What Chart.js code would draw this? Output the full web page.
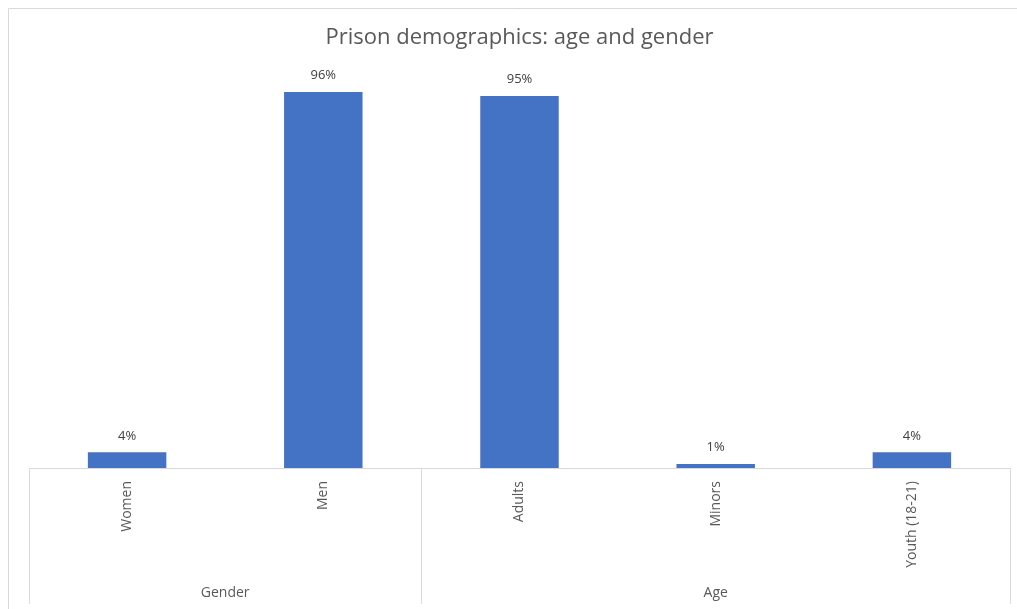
<!DOCTYPE html>
<html>
<head>
<meta charset="utf-8">
<script src="https://cdn.jsdelivr.net/npm/chart.js@4"></script>
<style>
  html, body { margin: 0; padding: 0; background: #fff; }
  #wrap { width: 1017px; height: 609px; position: relative; }
</style>
</head>
<body>
<div id="wrap"><canvas id="chart"></canvas></div>
<script>
// chart data
const categories = ['Women', 'Men', 'Adults', 'Minors', 'Youth (18-21)'];
const values = [4, 96, 95, 1, 4];
const groupNames = ['Gender', 'Age'];
const groupSizes = [2, 3];

const FONT = "'Open Sans', 'Noto Sans', sans-serif";
const LINE = '#d9d9d9';

// frame, group separators, group labels and value labels
const excelBits = {
  id: 'excelBits',
  beforeDraw(chart) {
    const ctx = chart.ctx;
    ctx.save();
    ctx.strokeStyle = LINE;
    ctx.lineWidth = 1;
    ctx.beginPath();
    ctx.moveTo(8.5, chart.height);
    ctx.lineTo(8.5, 8.5);
    ctx.lineTo(chart.width, 8.5);
    ctx.stroke();
    ctx.restore();
  },
  afterDraw(chart) {
    const ctx = chart.ctx;
    const x = chart.scales.x;
    const area = chart.chartArea;
    const half = (x.getPixelForValue(1) - x.getPixelForValue(0)) / 2;
    const bottom = x.bottom;
    ctx.save();
    ctx.strokeStyle = LINE;
    ctx.lineWidth = 1;
    let start = 0;
    const edges = [x.getPixelForValue(0) - half];
    groupSizes.forEach(n => { start += n; edges.push(x.getPixelForValue(start - 1) + half); });
    edges.forEach(px => {
      ctx.beginPath();
      ctx.moveTo(Math.round(px) + 0.5, area.bottom);
      ctx.lineTo(Math.round(px) + 0.5, bottom);
      ctx.stroke();
    });
    ctx.fillStyle = '#595959';
    ctx.font = '14px ' + FONT;
    ctx.textAlign = 'center';
    ctx.textBaseline = 'middle';
    groupNames.forEach((g, i) => {
      ctx.fillText(g, (edges[i] + edges[i + 1]) / 2, bottom - 11);
    });
    // value labels
    ctx.fillStyle = '#404040';
    ctx.font = '13px ' + FONT;
    ctx.textBaseline = 'bottom';
    chart.getDatasetMeta(0).data.forEach((bar, i) => {
      ctx.fillText(values[i] + '%', bar.x, bar.y - 10);
    });
    ctx.restore();
  }
};

new Chart(document.getElementById('chart'), {
  type: 'bar',
  data: {
    labels: categories,
    datasets: [{
      data: values,
      backgroundColor: '#4472C4',
      barPercentage: 0.4,
      categoryPercentage: 1
    }]
  },
  options: {
    responsive: true,
    maintainAspectRatio: false,
    animation: false,
    layout: { padding: { left: 29, right: 7, top: 0, bottom: 5 } },
    plugins: {
      legend: { display: false },
      tooltip: { enabled: false },
      title: {
        display: true,
        text: 'Prison demographics: age and gender',
        color: '#595959',
        font: { family: FONT, size: 22, weight: 'normal' },
        padding: { top: 25, bottom: 25 }
      }
    },
    scales: {
      x: {
        grid: { display: false },
        border: { display: true, color: LINE, width: 1 },
        ticks: {
          color: '#595959',
          font: { family: FONT, size: 14 },
          minRotation: 90,
          maxRotation: 90,
          padding: 5
        },
        afterFit(scale) { scale.height = 136; }
      },
      y: {
        display: false,
        min: 0,
        max: 100
      }
    }
  },
  plugins: [excelBits]
});
</script>
</body>
</html>
